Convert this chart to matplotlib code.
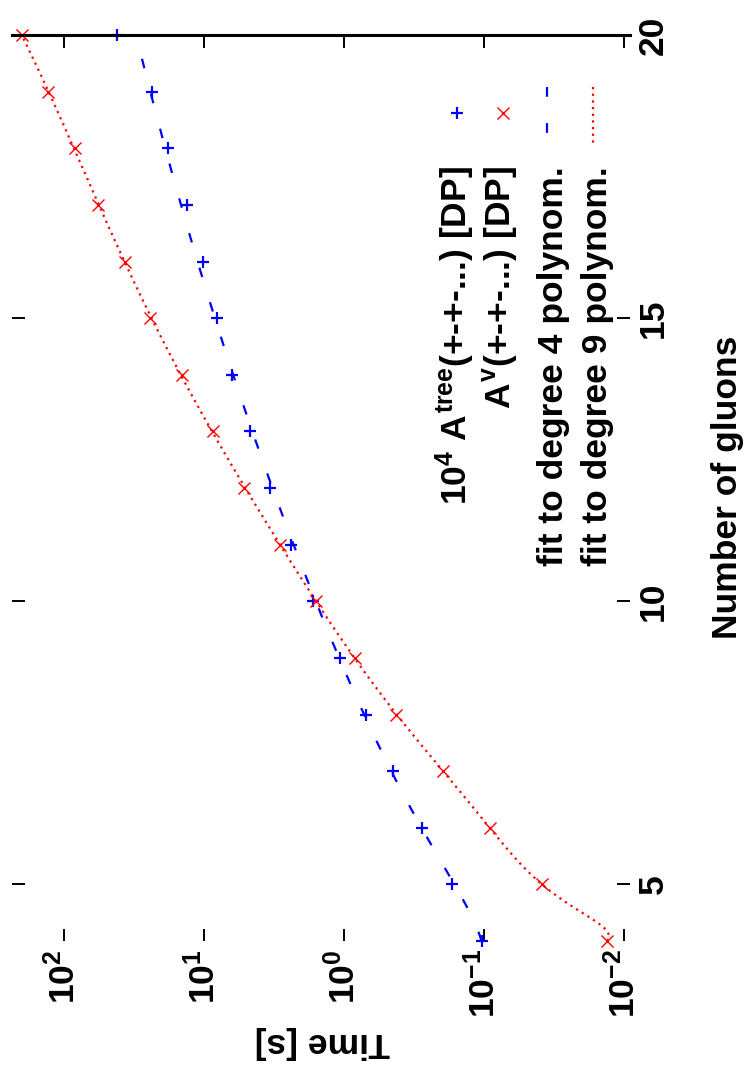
import numpy as np
import matplotlib
matplotlib.use("Agg")
import matplotlib.pyplot as plt
from matplotlib.ticker import FixedLocator, FuncFormatter, NullLocator

# ---------------- data ----------------
gluons = [4, 5, 6, 7, 8, 9, 10, 11, 12, 13, 14, 15, 16, 17, 18, 19, 20]
# 10^4 * A^tree(+-+-...) timing [s]
tree_time = [0.103, 0.169, 0.275, 0.447, 0.697, 1.07, 1.66, 2.40, 3.39,
             4.68, 6.31, 8.13, 10.2, 13.2, 18.2, 23.4, 41.7]
# A^v(+-+-...) timing [s]
loop_time = [0.0132, 0.0385, 0.0912, 0.195, 0.425, 0.834, 1.58, 2.86, 5.18,
             8.63, 14.4, 24.3, 36.6, 57.1, 83.4, 130.0, 200.0]

time_ticks = [1e-2, 1e-1, 1e0, 1e1, 1e2]
gluon_ticks = [5, 10, 15, 20]

legend_labels = [r"$10^{4}$ $A^{\mathrm{tree}}$(+-+-...) [DP]",
                 r"$A^{\mathrm{v}}$(+-+-...) [DP]",
                 "fit to degree 4 polynom.",
                 "fit to degree 9 polynom."]
x_label = "Time [s]"
y_label = "Number of gluons"

# ---------------- style ----------------
plt.rcParams['font.family'] = ['Liberation Sans', 'DejaVu Sans']
plt.rcParams['font.weight'] = 'bold'
plt.rcParams['mathtext.fontset'] = 'custom'
for k in ['rm', 'it', 'bf', 'sf', 'cal', 'tt']:
    plt.rcParams['mathtext.' + k] = 'Liberation Sans:bold'
plt.rcParams['lines.scale_dashes'] = False

FS = 25.5
BLUE = '#0000ff'
RED = '#ff0000'

W_PX, H_PX = 745, 1078
fig = plt.figure(figsize=(W_PX / 100, H_PX / 100), dpi=100)
ax_left, ax_right, ax_top, ax_bottom = 12, 630, 35, 941
ax = fig.add_axes([ax_left / W_PX, 1 - ax_bottom / H_PX,
                   (ax_right - ax_left) / W_PX, (ax_bottom - ax_top) / H_PX])

n = np.array(gluons, dtype=float)
tt = np.array(tree_time)
tl = np.array(loop_time)

# polynomial fits (relative weights)
c4 = np.polyfit(n, tt, 4, w=1 / tt)
c9 = np.polyfit(n, tl, 9, w=1 / tl)
nn = np.linspace(4, 20, 600)
f4 = np.clip(np.polyval(c4, nn), 1e-4, None)
f9 = np.clip(np.polyval(c9, nn), 1e-4, None)

dash_blue = (0, (7, 19))
dot_red = (0, (1.6, 3.2))

ax.plot(f4, nn, color=BLUE, lw=1.6, linestyle=dash_blue)
ax.plot(f9, nn, color=RED, lw=1.6, linestyle=dot_red)
ax.plot(tt, n, linestyle='none', marker='+', ms=9, mew=1.6, color=BLUE, clip_on=False)
ax.plot(tl, n, linestyle='none', marker='x', ms=8, mew=1.0, color=RED, clip_on=False)

ax.set_xscale('log')
ax.set_xlim(10 ** 2.371, 10 ** -2.043)
ax.set_ylim(4, 20)

ax.xaxis.set_major_locator(FixedLocator(time_ticks))
ax.xaxis.set_minor_locator(NullLocator())
ax.xaxis.set_major_formatter(FuncFormatter(lambda v, p: r"$10^{%d}$" % int(round(np.log10(v)))))
ax.yaxis.set_major_locator(FixedLocator(gluon_ticks))
ax.yaxis.set_minor_locator(NullLocator())

ax.tick_params(axis='x', which='major', direction='in', top=True, bottom=True,
               length=9, width=1.4, labelsize=FS, pad=6, labelrotation=90)
ax.tick_params(axis='y', which='major', direction='in', left=True, right=True,
               labelleft=False, labelright=True, length=9.5, width=1.4,
               labelsize=FS, pad=5, labelrotation=90)
for t in ax.yaxis.get_major_ticks():
    t.label2.set_va('center')
    t.label2.set_ha('left')
for t in ax.xaxis.get_major_ticks():
    t.label1.set_va('top')
    t.label1.set_ha('center')

for s in ['left', 'right', 'bottom']:
    ax.spines[s].set_visible(False)
ax.spines['top'].set_linewidth(2.2)

# axis labels
fig.text(322 / W_PX, 1 - 1043 / H_PX, x_label, rotation=180, ha='center', va='center',
         fontsize=FS, fontweight='bold')
fig.text(727 / W_PX, 1 - 487 / H_PX, y_label, rotation=90, ha='center', va='center',
         fontsize=FS, fontweight='bold')

# manual rotated legend
def ax_x(px):
    return (px - ax_left) / (ax_right - ax_left)

def ax_y(py):
    return (ax_bottom - py) / (ax_bottom - ax_top)

text_x = [455, 500, 553, 598]
for lab, xp in zip(legend_labels, text_x):
    ax.text(ax_x(xp), ax_y(166), lab, transform=ax.transAxes, rotation=90,
            ha='center', va='top', fontsize=FS, fontweight='bold')

ax.plot([ax_x(457)], [ax_y(113)], transform=ax.transAxes, marker='+', ms=9, mew=1.6,
        color=BLUE, linestyle='none', clip_on=False)
ax.plot([ax_x(503)], [ax_y(113)], transform=ax.transAxes, marker='x', ms=8, mew=1.0,
        color=RED, linestyle='none', clip_on=False)
ax.plot([ax_x(547), ax_x(547)], [ax_y(87), ax_y(143)], transform=ax.transAxes,
        color=BLUE, lw=1.6, linestyle=dash_blue, clip_on=False)
ax.plot([ax_x(593), ax_x(593)], [ax_y(87), ax_y(143)], transform=ax.transAxes,
        color=RED, lw=1.6, linestyle=dot_red, clip_on=False)

fig.savefig("out.png", dpi=100)
